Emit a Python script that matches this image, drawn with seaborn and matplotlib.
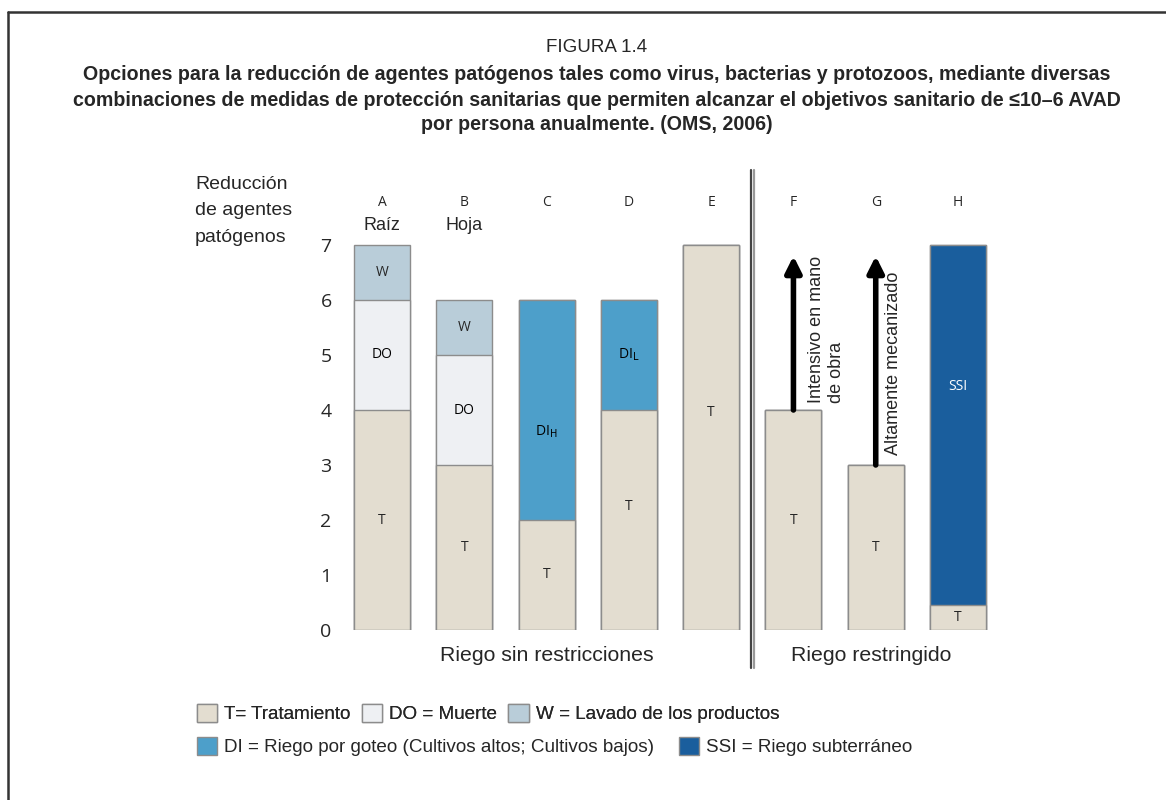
import matplotlib
matplotlib.use('Agg')
import matplotlib.pyplot as plt
import seaborn as sns
import pandas as pd
from matplotlib.patches import Patch
from matplotlib.lines import Line2D

# data
bars = ['A', 'B', 'C', 'D', 'E', 'F', 'G', 'H']
subtitles = ['Raíz', 'Hoja', '', '', '', '', '', '']
t_vals = [4, 3, 2, 4, 7, 4, 3, 0.45]
mid_vals = [2, 2, 4, 2, 0, 0, 0, 6.55]
mid_kind = ['DO', 'DO', 'DI', 'DI', '', '', '', 'SSI']
mid_text = ['DO', 'DO', r'DI$_{\rm H}$', r'DI$_{\rm L}$', '', '', '', 'SSI']
top_vals = [1, 1, 0, 0, 0, 0, 0, 0]
top_kind = ['W', 'W', '', '', '', '', '', '']
arrow_tip = {'F': 6.8, 'G': 6.8}
arrow_text = {'F': 'Intensivo en mano\nde obra', 'G': 'Altamente mecanizado'}
groups = ['Riego sin restricciones', 'Riego restringido']

colors = {'T': '#e3ddd0', 'DO': '#eef0f3', 'W': '#b9cdd9',
          'DI': '#4d9fca', 'SSI': '#1a5e9d'}
legend_row1 = [('T', 'T= Tratamiento'), ('DO', 'DO = Muerte'),
               ('W', 'W = Lavado de los productos')]
legend_row2 = [('DI', 'DI = Riego por goteo (Cultivos altos; Cultivos bajos)'),
               ('SSI', 'SSI = Riego subterráneo')]

title_num = 'FIGURA 1.4'
title = ('Opciones para la reducción de agentes patógenos tales como virus, bacterias y protozoos, mediante diversas\n'
         'combinaciones de medidas de protección sanitarias que permiten alcanzar el objetivos sanitario de ≤10–6 AVAD\n'
         'por persona anualmente. (OMS, 2006)')

sns.set_style('white')
plt.rcParams['font.family'] = ['Liberation Sans', 'DejaVu Sans']

df = pd.DataFrame({'bar': bars, 't': t_vals, 'mid': mid_vals, 'top': top_vals})
df['c1'] = df['t']
df['c2'] = df['c1'] + df['mid']
df['c3'] = df['c2'] + df['top']

col1 = [colors['T']] * len(bars)
col2 = [colors[mid_kind[i]] if mid_vals[i] > 0 else colors['T'] for i in range(len(bars))]
col3 = [colors[top_kind[i]] if top_vals[i] > 0 else col2[i] for i in range(len(bars))]

fig = plt.figure(figsize=(11.66, 8.0), dpi=100)
ax = fig.add_axes([340 / 1166, 170 / 800, 660 / 1166, 7.05 * 55 / 800])

# stacked bars by overplotting cumulative heights
for col, pal in [('c3', col3), ('c2', col2), ('c1', col1)]:
    sns.barplot(data=df, x='bar', y=col, hue='bar', palette=pal, legend=False,
                width=0.68, edgecolor='#8c8c8c', linewidth=1, saturation=1, ax=ax)

ax.set_xlim(-0.51, 7.51)
ax.set_ylim(0, 7.05)
ax.set_xlabel('')
ax.set_ylabel('')
ax.set_xticks([])
ax.set_yticks(range(8))
ax.set_yticklabels([str(i) for i in range(8)], fontsize=14, family='Open Sans')
ax.tick_params(axis='y', length=0, pad=6)
sns.despine(ax=ax, left=True, bottom=True)

# segment labels
nudge = {('C', 'mid'): -0.4, ('D', 't'): 0.25, ('E', 't'): 0.45, ('H', 'mid'): 0.7}
lab_kw = dict(ha='center', va='center', fontsize=10, family='Open Sans')
for i, b in enumerate(bars):
    ax.text(i, t_vals[i] / 2 + nudge.get((b, 't'), 0), 'T', **lab_kw)
    if mid_vals[i] > 0:
        c = 'white' if mid_kind[i] == 'SSI' else 'black'
        ax.text(i, t_vals[i] + mid_vals[i] / 2 + nudge.get((b, 'mid'), 0),
                mid_text[i], color=c, **lab_kw)
    if top_vals[i] > 0:
        ax.text(i, t_vals[i] + mid_vals[i] + top_vals[i] / 2, 'W', **lab_kw)
    ax.text(i, 7.78, b, ha='center', va='center', fontsize=10, family='Open Sans')
    if subtitles[i]:
        ax.text(i, 7.35, subtitles[i], ha='center', va='center', fontsize=13)

# arrows for F and G
for b, tip in arrow_tip.items():
    i = bars.index(b)
    ax.annotate('', xy=(i, tip), xytext=(i, t_vals[i]),
                arrowprops=dict(arrowstyle='-|>', lw=4, color='black',
                                mutation_scale=24, shrinkA=0, shrinkB=0))
ax.text(5.18, 4.13, arrow_text['F'], rotation=90, ha='left', va='bottom', fontsize=13)
ax.text(6.11, 3.18, arrow_text['G'], rotation=90, ha='left', va='bottom', fontsize=13)

# double divider line
ax.plot([4.48, 4.48], [-0.69, 8.36], color='#444444', lw=1.6, clip_on=False)
ax.plot([4.52, 4.52], [-0.69, 8.36], color='#999999', lw=1.6, clip_on=False)

ax.text(2, -0.47, groups[0], ha='center', va='center', fontsize=15.3)
ax.text(5.95, -0.47, groups[1], ha='center', va='center', fontsize=15.3)

fig.text(195 / 1166, 1 - 176 / 800, 'Reducción\nde agentes\npatógenos',
         ha='left', va='top', fontsize=14, linespacing=1.72)

fig.text(0.512, 1 - 48 / 800, title_num, ha='center', va='center', fontsize=13.5)
fig.text(0.512, 1 - 100 / 800, title, ha='center', va='center', fontsize=14.1,
         fontweight='bold', linespacing=1.4)

# legend rows
h1 = [Patch(facecolor=colors[k], edgecolor='#8c8c8c') for k, _ in legend_row1]
h2 = [Patch(facecolor=colors[k], edgecolor='#8c8c8c') for k, _ in legend_row2]
leg_kw = dict(loc='upper left', frameon=False, fontsize=13.6, handlelength=1.1,
              handleheight=1.1, handletextpad=0.35, borderaxespad=0)
leg1 = fig.legend(h1, [l for _, l in legend_row1], bbox_to_anchor=(189 / 1166, 1 - 696 / 800),
                  ncol=3, columnspacing=0.6, **leg_kw)
fig.add_artist(leg1)
fig.legend(h2, [l for _, l in legend_row2], bbox_to_anchor=(189 / 1166, 1 - 729 / 800),
           ncol=2, columnspacing=1.3, **leg_kw)

# frame lines
fig.add_artist(Line2D([8 / 1166, 1], [1 - 12 / 800, 1 - 12 / 800], color='#333333', lw=1.8))
fig.add_artist(Line2D([8 / 1166, 8 / 1166], [0, 1 - 12 / 800], color='#333333', lw=1.8))

fig.savefig('out.png', dpi=100)
